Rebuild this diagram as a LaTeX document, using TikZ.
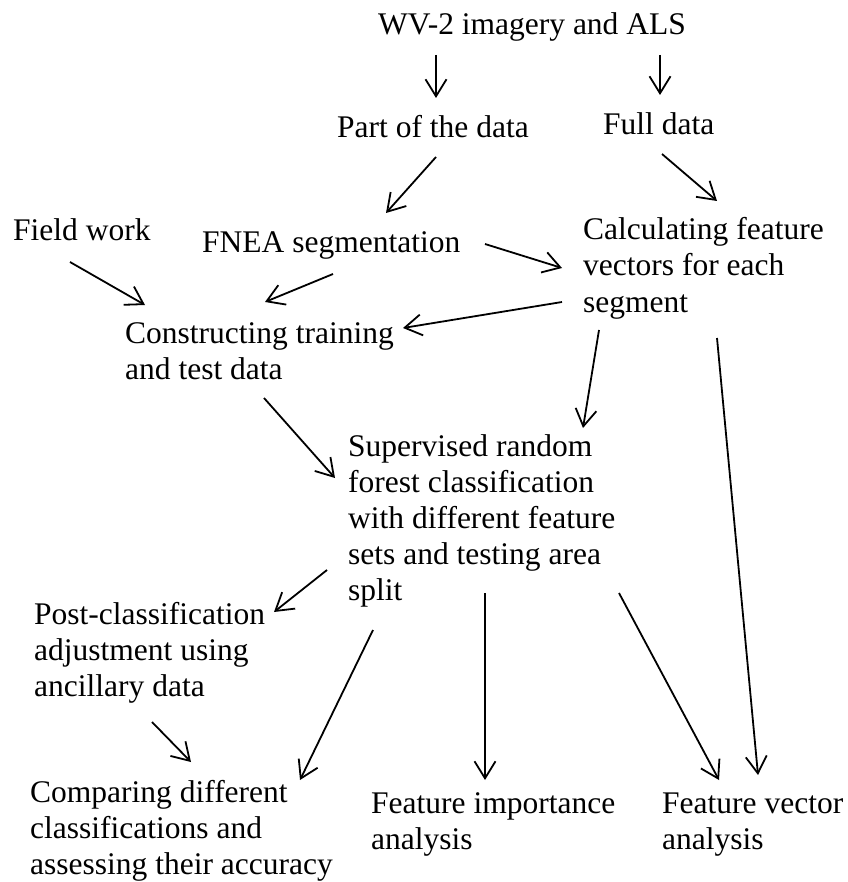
\documentclass[tikz,border=0pt]{standalone}
\usepackage{fontspec}
\setmainfont{Liberation Serif}
\usetikzlibrary{arrows.meta}
\begin{document}
\begin{tikzpicture}
	[x=1pt,y=-1pt,
	lbl/.style={anchor=base west,inner sep=0pt,align=left,font=\fontsize{31.5}{36}\selectfont},
	arr/.style={->,line width=1.8pt},
	>={Straight Barb[length=17pt,width=21pt]}]
	\useasboundingbox (0,0) rectangle (847,882);
	% nodes sit on the baseline of their last line
	\node[lbl,name=wv] at (378,35) {WV-2 imagery and ALS};
	\node[lbl,name=part] at (337,138) {Part of the data};
	\node[lbl,name=full] at (603,135) {Full data};
	\node[lbl,name=field] at (13,241) {Field work};
	\node[lbl,name=fnea] at (202,253) {FNEA segmentation};
	\node[lbl,name=calc] at (583,312) {Calculating feature\\vectors for each\\segment};
	\node[lbl,name=cons] at (125,379) {Constructing training\\and test data};
	\node[lbl,name=sup] at (348,600) {Supervised random\\forest classification\\with different feature\\sets and testing area\\split};
	\node[lbl,name=post] at (34,696) {Post-classification\\adjustment using\\ancillary data};
	\node[lbl,name=comp] at (30,874) {Comparing different\\classifications and\\assessing their accuracy};
	\node[lbl,name=imp] at (371,849) {Feature importance\\analysis};
	\node[lbl,name=vec] at (662,849) {Feature vector\\analysis};
	\draw[arr] ([shift={(58,20)}]wv.base west) -- ([shift={(99,-40)}]part.base west);
	\draw[arr] ([shift={(282,20)}]wv.base west) -- ([shift={(57,-40)}]full.base west);
	\draw[arr] ([shift={(99,19)}]part.base west) -- ([shift={(184,-40)}]fnea.base west);
	\draw[arr] ([shift={(59,19)}]full.base west) -- ([shift={(134,-111)}]calc.base west);
	\draw[arr] ([shift={(57,21)}]field.base west) -- ([shift={(20,-74)}]cons.base west);
	\draw[arr] ([shift={(131,21)}]fnea.base west) -- ([shift={(140,-77)}]cons.base west);
	\draw[arr] ([shift={(283,-9)}]fnea.base west) -- ([shift={(-21,-44)}]calc.base west);
	\draw[arr] ([shift={(-21,-10)}]calc.base west) -- ([shift={(278,-51)}]cons.base west);
	\draw[arr] ([shift={(139,19)}]cons.base west) -- ([shift={(-13,-122)}]sup.base west);
	\draw[arr] ([shift={(16,18)}]calc.base west) -- ([shift={(235,-172)}]sup.base west);
	\draw[arr] ([shift={(134,26)}]calc.base west) -- ([shift={(96,-74)}]vec.base west);
	\draw[arr] ([shift={(-21,-30)}]sup.base west) -- ([shift={(240,-84)}]post.base west);
	\draw[arr] ([shift={(118,26)}]post.base west) -- ([shift={(161,-112)}]comp.base west);
	\draw[arr] ([shift={(25,30)}]sup.base west) -- ([shift={(270,-94)}]comp.base west);
	\draw[arr] ([shift={(137,-7)}]sup.base west) -- ([shift={(114,-69)}]imp.base west);
	\draw[arr] ([shift={(271,-7)}]sup.base west) -- ([shift={(57,-69)}]vec.base west);
\end{tikzpicture}
\end{document}
